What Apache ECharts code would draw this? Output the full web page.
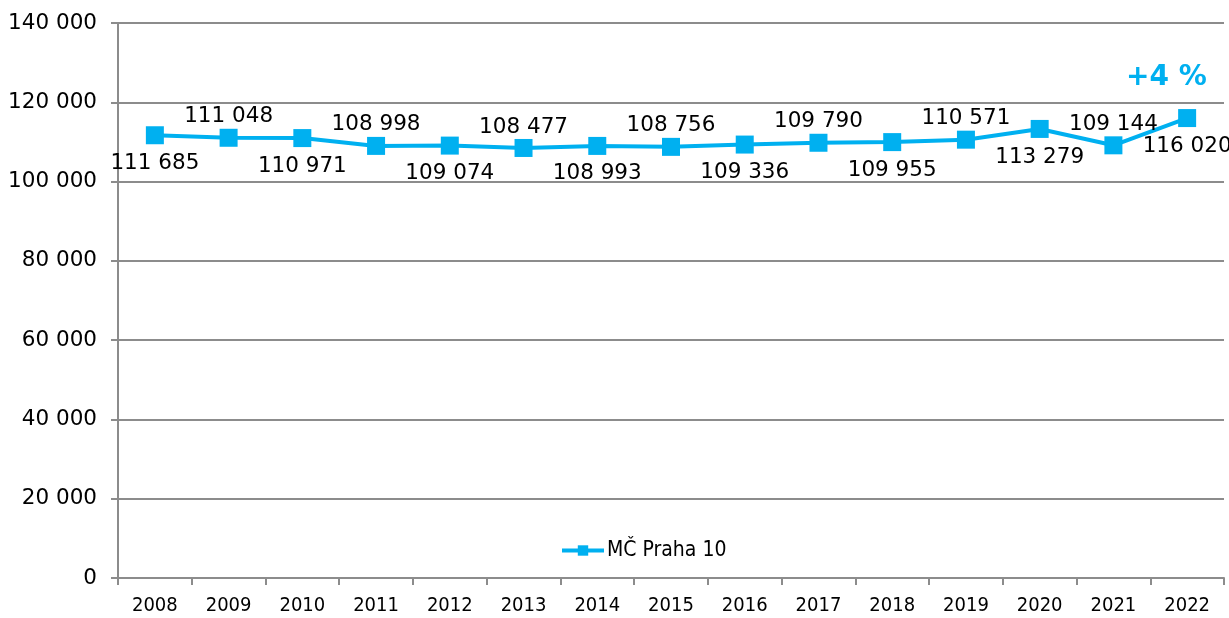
<!DOCTYPE html>
<html>
<head>
<meta charset="utf-8">
<script src="https://cdn.jsdelivr.net/npm/echarts@6/dist/echarts.min.js"></script>
<style>
  html, body { margin: 0; padding: 0; background: #fff; }
  #chart { width: 1229px; height: 618px; }
</style>
</head>
<body>
<div id="chart"></div>
<script>
const years = ['2008', '2009', '2010', '2011', '2012', '2013', '2014', '2015', '2016', '2017', '2018', '2019', '2020', '2021', '2022'];
const population = [111685, 111048, 110971, 108998, 109074, 108477, 108993, 108756, 109336, 109790, 109955, 110571, 113279, 109144, 116020];
const labelPlace = ['bottom', 'top', 'bottom', 'top', 'bottom', 'top', 'bottom', 'top', 'bottom', 'top', 'bottom', 'top', 'bottom', 'top', 'bottom'];
const seriesName = 'MČ Praha 10';
const changeText = '+4 %';

const blue = '#00B0F0';
const gray = '#8c8c8c';

const fmt = v => String(v).replace(/\B(?=(\d{3})+(?!\d))/g, ' ');

const chart = echarts.init(document.getElementById('chart'));

const points = population.map((v, i) => ({
  value: v,
  label: {
    position: labelPlace[i],
    distance: labelPlace[i] === 'bottom' ? 8 : 1
  }
}));

chart.setOption({
  animation: false,
  grid: { left: 118, right: 5, top: 23, bottom: 40 },
  legend: {
    data: [seriesName],
    left: 555,
    top: 535,
    itemWidth: 42,
    itemHeight: 13,
    itemGap: 0,
    lineStyle: { width: 4 },
    textStyle: { fontFamily: 'DejaVu Sans Condensed', fontSize: 21, color: '#000', padding: [0, 0, 0, -2] }
  },
  xAxis: {
    type: 'category',
    data: years,
    boundaryGap: true,
    axisLine: { lineStyle: { color: gray, width: 2 } },
    axisTick: { show: true, length: 7, lineStyle: { color: gray, width: 2 } },
    axisLabel: { fontFamily: 'DejaVu Sans Condensed', fontSize: 20, color: '#000', margin: 18 }
  },
  yAxis: {
    type: 'value',
    min: 0,
    max: 140000,
    interval: 20000,
    axisLine: { show: true, lineStyle: { color: gray, width: 2 } },
    axisTick: { show: true, length: 7, inside: false, lineStyle: { color: gray, width: 2 } },
    splitLine: { lineStyle: { color: gray, width: 2 } },
    axisLabel: { fontFamily: 'DejaVu Sans', fontSize: 21.5, color: '#000', margin: 21, formatter: fmt }
  },
  series: [{
    name: seriesName,
    type: 'line',
    data: points,
    symbol: 'rect',
    symbolSize: 18,
    itemStyle: { color: blue },
    lineStyle: { color: blue, width: 4 },
    label: {
      show: true,
      fontFamily: 'DejaVu Sans',
      fontSize: 21.5,
      color: '#000',
      formatter: p => fmt(p.value)
    }
  }],
  graphic: [{
    type: 'text',
    left: 1126,
    top: 64,
    style: {
      text: changeText,
      font: 'bold 28px "DejaVu Sans"',
      fill: blue
    }
  }]
});
</script>
</body>
</html>
